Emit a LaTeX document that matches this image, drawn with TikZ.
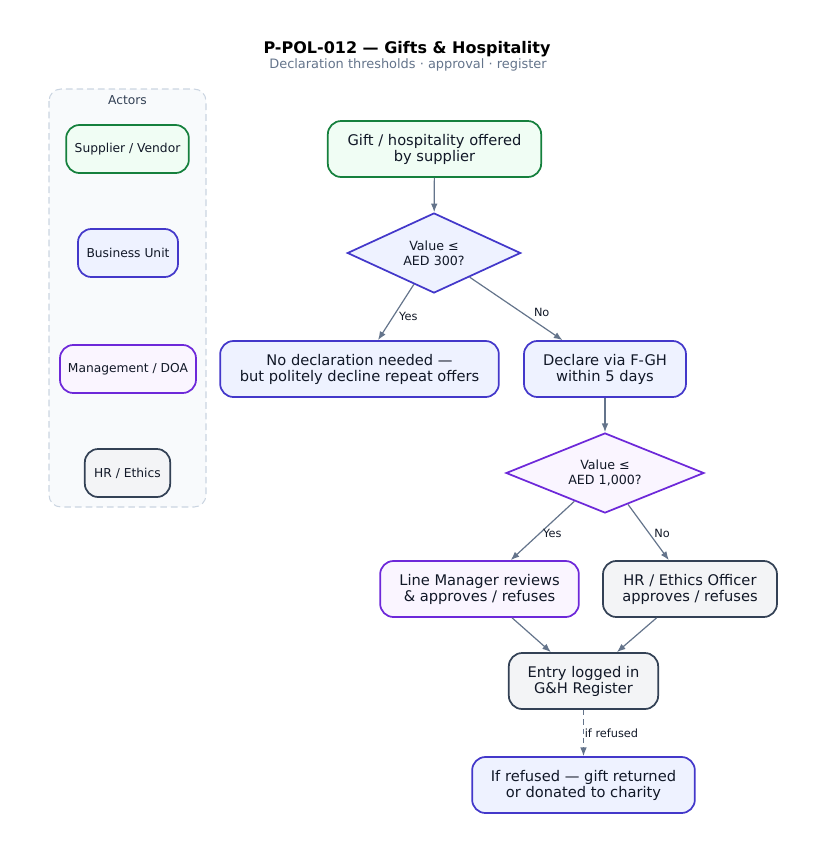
\documentclass[tikz,border=0pt]{standalone}
\usepackage{fontspec}
\setmainfont{DejaVu Sans}
\usetikzlibrary{arrows.meta, positioning, shapes.geometric}

\definecolor{ink}{HTML}{111827}
\definecolor{muted}{HTML}{64748B}
\definecolor{grnline}{HTML}{15803D}
\definecolor{grnfill}{HTML}{F0FDF4}
\definecolor{bluline}{HTML}{4338CA}
\definecolor{blufill}{HTML}{EEF2FF}
\definecolor{purline}{HTML}{6D28D9}
\definecolor{purfill}{HTML}{FAF5FF}
\definecolor{grayline}{HTML}{334155}
\definecolor{grayfill}{HTML}{F3F4F6}
\definecolor{panelline}{HTML}{CBD5E1}
\definecolor{panelfill}{HTML}{F8FAFC}

\begin{document}
\begin{tikzpicture}[
      x=0.75pt, y=-0.75pt,
      box/.style={rectangle, rounded corners=10pt, draw, line width=1.3pt, align=center,
        minimum height=42pt, inner sep=2pt, text=ink, font=\fontsize{11}{12}\selectfont},
      actor/.style={box, minimum height=36pt, font=\fontsize{9.2}{11}\selectfont},
      decision/.style={diamond, draw, line width=1.3pt, align=center, inner sep=0pt,
        text=ink, font=\fontsize{9.5}{11.25}\selectfont},
      green/.style={draw=grnline, fill=grnfill},
      blue/.style={draw=bluline, fill=blufill},
      purple/.style={draw=purline, fill=purfill},
      gray/.style={draw=grayline, fill=grayfill},
      edge/.style={-{Latex[length=6.5pt, width=5pt]}, draw=muted, line width=0.9pt},
      lbl/.style={right, inner sep=2pt, text=ink, font=\fontsize{8.5}{10}\selectfont}
    ]
    \useasboundingbox (0,0) rectangle (816,851);

    % title
    \node[font=\bfseries\fontsize{12}{14}\selectfont, text=black] (title) at (407,49.5) {P-POL-012 — Gifts \& Hospitality};
    \node[font=\fontsize{9.7}{11}\selectfont, text=muted] (subtitle) at (408,65) {Declaration thresholds · approval · register};

    % actors panel
    \draw[panelline, fill=panelfill, dashed, dash pattern=on 5pt off 3pt, line width=0.8pt, rounded corners=9pt]
      (49,89) rectangle (206,507);
    \node[text=grayline, font=\fontsize{9.2}{11}\selectfont] (actors) at (127.5,100.5) {Actors};
    \node[actor, green, minimum width=92pt] (supplier) at (127.5,149) {Supplier / Vendor};
    \node[actor, blue, minimum width=75pt] (bu) at (128,253) {Business Unit};
    \node[actor, purple, minimum width=102pt] (mgmt) at (128,369) {Management / DOA};
    \node[actor, gray, minimum width=64pt] (hrethics) at (127.5,473) {HR / Ethics};

    % flow
    \node[box, green, minimum width=160pt] (offer) at (434.5,149) {Gift / hospitality offered\\by supplier};
    \node[decision, blue, aspect=2.2, minimum width=130pt, minimum height=60pt] (d1) at (434,253) {Value ≤\\AED 300?};
    \node[box, blue, minimum width=209pt] (nodecl) at (359.5,369) {No declaration needed —\\but politely decline repeat offers};
    \node[box, blue, minimum width=121.5pt] (declare) at (605,369) {Declare via F-GH\\within 5 days};
    \node[decision, purple, aspect=2.5, minimum width=148.5pt, minimum height=60pt] (d2) at (605,473) {Value ≤\\AED 1,000?};
    \node[box, purple, minimum width=149pt] (lm) at (479.5,589) {Line Manager reviews\\\& approves / refuses};
    \node[box, gray, minimum width=130.5pt] (hr) at (690,589) {HR / Ethics Officer\\approves / refuses};
    \node[box, gray, minimum width=112pt] (entry) at (583.5,681) {Entry logged in\\G\&H Register};
    \node[box, blue, minimum width=167pt] (refused) at (583.5,785) {If refused — gift returned\\or donated to charity};

    \draw[edge] (offer) -- (d1);
    \draw[edge] (d1) -- node[lbl, yshift=-3pt] {Yes} (nodecl);
    \draw[edge] (d1) -- node[lbl, xshift=11pt, yshift=-3pt] {No} (declare);
    \draw[edge] (d2) -- node[lbl, xshift=-2pt, yshift=-2pt] {Yes} (lm);
    \draw[edge] (declare) -- (d2);
    \draw[edge] (d2) -- node[lbl, xshift=2pt, yshift=-1pt] {No} (hr);
    \draw[edge] (lm) -- (entry);
    \draw[edge] (hr) -- (entry);
    \draw[edge, dashed, dash pattern=on 4pt off 3pt] (entry) -- node[lbl, inner sep=0.5pt] {if refused} (refused);
\end{tikzpicture}
\end{document}
